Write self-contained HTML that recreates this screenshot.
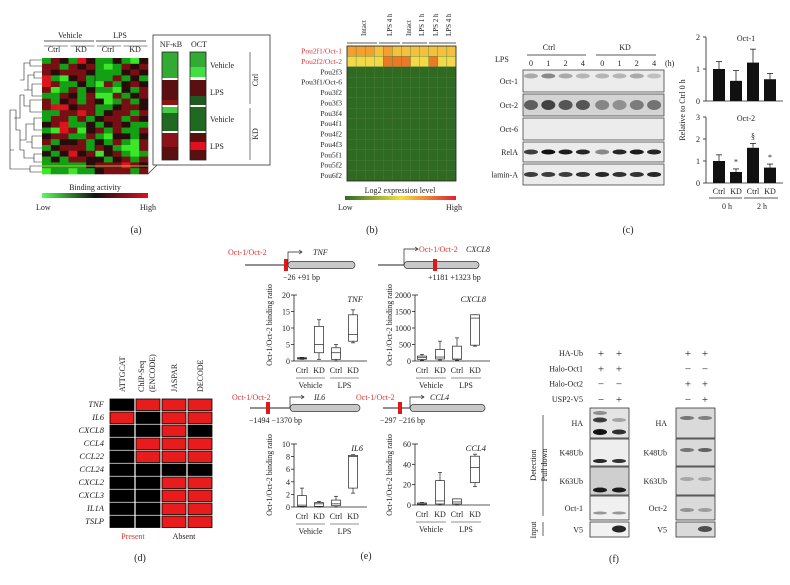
<!DOCTYPE html>
<html><head><meta charset="utf-8"><style>
body{margin:0;background:#fff}
svg{display:block;font-family:"Liberation Serif",serif;}
text{fill:#222}
</style></head><body>
<svg id="fig" width="790" height="585" viewBox="0 0 790 585">
<g id="pa"></g>
<g id="pb"></g>
<g id="pc"></g>
<g id="pd"></g>
<g id="pe"></g>
<g id="pf"></g>
</svg>
<script>
// ---------- data ----------
const aRows = [
[-1,1,0,-1,2,0,-1,-1,0,-1,-2,0],
[1,1,-1,1,0,1,-1,-2,-1,1,0,1],
[1,0,1,1,1,0,-1,-1,-1,0,1,0],
[2,-1,-2,0,1,-1,-1,-1,1,-1,0,-1],
[2,1,-1,-1,0,-1,-2,1,-1,0,1,0],
[1,-2,-1,1,-1,0,-1,-1,-2,0,-1,1],
[-1,-1,1,0,-1,1,-2,-2,1,-1,0,1],
[1,-1,0,1,-1,1,0,-2,-1,1,-1,0],
[1,2,2,0,1,1,-1,-1,0,1,1,0],
[-1,-1,1,1,2,1,-1,0,1,1,-1,1],
[-1,1,1,-1,1,-1,0,1,1,-1,1,0],
[0,1,2,-1,-1,0,-1,0,1,0,-1,-1],
[-1,-2,2,1,-2,0,1,-1,1,-1,-1,1],
[0,1,1,-1,-1,1,-1,-2,0,0,-1,0],
[1,-1,0,0,1,-1,0,-1,1,-1,-2,1],
[-1,0,1,1,1,-1,1,0,-1,-2,-2,1],
[0,-1,0,2,0,1,-2,0,1,-1,-2,-1],
[-1,0,-1,1,1,0,0,-1,0,1,-1,1],
[-1,-1,-1,-1,-1,0,1,1,1,2,1,0],
[-2,-1,-1,-2,-1,-1,0,1,1,1,-1,1]
];
const bGenes = ["Pou2f1/Oct-1","Pou2f2/Oct-2","Pou2f3","Pou3f1/Oct-6","Pou3f2","Pou3f3","Pou3f4","Pou4f1","Pou4f2","Pou4f3","Pou5f1","Pou5f2","Pou6f2"];
const bRow1 = [0.85,0.8,0.8,0.75,0.8,0.75,0.7,0.75,0.72,0.7,0.75,0.7];
const bRow2 = [0.6,0.65,0.7,0.65,0.85,0.8,0.8,0.7,0.6,0.85,0.6,0.6];
const cLanes = ["0","1","2","4","0","1","2","4"];
const cBlots = ["Oct-1","Oct-2","Oct-6","RelA","lamin-A"];
const cBand = [[0.3,0.45,0.3,0.25,0.25,0.25,0.3,0.2],[0.6,0.75,0.65,0.65,0.4,0.35,0.45,0.5],[0,0,0,0,0,0,0,0],[0.8,1,0.95,0.9,0.45,0.9,0.95,0.9],[0.8,0.8,0.8,0.85,0.9,0.85,0.85,0.9]];
const barCats = ["Ctrl","KD","Ctrl","KD"];
const oct1Vals = [1,0.63,1.2,0.68];
const oct1Err = [0.23,0.32,0.42,0.18];
const oct2Vals = [1,0.5,1.6,0.7];
const oct2Err = [0.28,0.14,0.2,0.16];
const dGenes = ["TNF","IL6","CXCL8","CCL4","CCL22","CCL24","CXCL2","CXCL3","IL1A","TSLP"];
const dCols = ["ATTGCAT","ChIP-Seq (ENCODE)","JASPAR","DECODE"];
const dMat = [[0,1,1,1],[1,0,1,1],[0,0,1,0],[0,1,1,1],[0,1,1,1],[0,0,0,0],[0,0,1,1],[0,0,1,1],[0,0,1,1],[0,0,1,1]];
const eCats = ["Ctrl","KD","Ctrl","KD"];
const tnfBox = [[0.5,0.6,0.8,1,1.1],[0.5,2.5,5,10.5,12.5],[0,0.5,2.5,4,5],[5.5,6,8,14,15.5]];
const cxcl8Box = [[20,50,100,150,200],[30,60,120,350,600],[20,50,60,450,700],[450,480,1300,1400,1400]];
const il6Box = [[0,0.1,0.3,1.8,3],[0,0.1,0.5,0.7,0.9],[0,0.2,0.5,1.1,1.7],[2.2,3,8,8.2,8.3]];
const ccl4Box = [[0,0.5,1,2,2.5],[0,1,4,24,32],[0,1,3,6,6],[18,22,37,48,50]];
const tnfTicks = [0,5,10,15,20], cxcl8Ticks=[0,500,1000,1500,2000], il6Ticks=[0,2,4,6,8,10], ccl4Ticks=[0,20,40,60];
const fLeftSigns = [["+","+"],["+","+"],["−","−"],["−","+"]];
const fRightSigns = [["+","+"],["−","−"],["+","+"],["−","+"]];

// ---------- helpers ----------
const NS="http://www.w3.org/2000/svg";
function mk(parent,tag,attrs,txt){const e=document.createElementNS(NS,tag);for(const k in attrs)e.setAttribute(k,attrs[k]);if(txt!==undefined)e.textContent=txt;parent.appendChild(e);return e;}
function T(p,x,y,s,o){o=o||{};const e=mk(p,"text",Object.assign({x:x,y:y,"font-size":o.fs||9},o.a||{}),s);if(o.anchor)e.setAttribute("text-anchor",o.anchor);if(o.fill)e.setAttribute("style","fill:"+o.fill);if(o.it)e.setAttribute("font-style","italic");if(o.rot)e.setAttribute("transform","rotate(-90 "+x+" "+y+")");return e;}
function L(p,x1,y1,x2,y2,w,c){return mk(p,"line",{x1,y1,x2,y2,stroke:c||"#222","stroke-width":w||0.8});}
function R(p,x,y,w,h,f,s){const r=mk(p,"rect",{x,y,width:w,height:h,fill:f});if(s){r.setAttribute("stroke",s);r.setAttribute("stroke-width",0.8);}return r;}
function gr(v){if(v<0){const g=v<=-2?230:v<=-1?160:90;return `rgb(${v<=-2?60:20},${g},${v<=-2?40:20})`;} if(v>0){return v>=2?"rgb(220,20,30)":"rgb(120,15,20)";} return "rgb(40,12,12)";}

// ---------- panel a ----------
const pa=document.getElementById("pa");
const ax0=42,ay0=58,aw=106,ah=116;
const cw=aw/aRows[0].length, rh=ah/aRows.length;
aRows.forEach((row,i)=>row.forEach((v,j)=>{const r=R(pa,ax0+j*cw,ay0+i*rh,cw+0.3,rh+0.3,gr(v));

}));
L(pa,ax0+aw/2,ay0,ax0+aw/2,ay0+ah,0.6,"#111");
L(pa,ax0,ay0+ah-8,ax0+aw,ay0+ah-8,0.8,"#e8d050");
T(pa,70,38,"Vehicle",{fs:8,anchor:"middle"});T(pa,120,38,"LPS",{fs:8,anchor:"middle"});
L(pa,44,41,94,41);L(pa,96,41,146,41);
["Ctrl","KD","Ctrl","KD"].forEach((s,i)=>{T(pa,54+i*27,52,s,{fs:8,anchor:"middle"});L(pa,44+i*26.5,46,68+i*26.5,46,0.6);});
mk(pa,"path",{d:"M42 60H30V66H42M30 63H24V80H20M42 72H34V78H42M34 75H28V90H24M42 84H32V96H42M32 90H28M42 100H30V112H42M30 106H24V95H20V118H14M42 118H34V130H42M34 124H26V140H20M42 136H32V148H42M32 142H26M42 154H34V162H42M34 158H24V150H20V130H16V110H10V150H14M42 166H30V172H42M30 169H10V150",fill:"none",stroke:"#222","stroke-width":0.6});
T(pa,95,190,"Binding activity",{fs:8,anchor:"middle"});
const lg=mk(pa,"defs",{});const grd=mk(lg,"linearGradient",{id:"ga"});mk(grd,"stop",{offset:"0","stop-color":"#5f5"});mk(grd,"stop",{offset:"0.5","stop-color":"#111"});mk(grd,"stop",{offset:"1","stop-color":"#e01020"});
R(pa,42,193,106,5,"url(#ga)");
T(pa,36,210,"Low",{fs:8});T(pa,140,210,"High",{fs:8});
mk(pa,"path",{d:"M148 174L157 165",stroke:"#222","stroke-width":0.6,fill:"none"});
R(pa,153,35,117,130,"#fff","#333");
T(pa,171,47,"NF-κB",{fs:8,anchor:"middle"});T(pa,199,47,"OCT",{fs:8,anchor:"middle"});
[[52,78,"#3a3"],[80,100,"#5a1010"],[100,105,"#8a1515"],[107,113,"#4c4"],[113,131,"#1f6a20"],[133,147,"#8a1218"],[147,160,"#5a1010"]].forEach(s=>R(pa,162,s[0],16,s[1]-s[0],s[2]));
[[52,67,"#3a3"],[67,77,"#4d4"],[80,96,"#5a1010"],[96,105,"#1f5a20"],[107,131,"#1f6a20"],[133,142,"#5a1010"],[142,150,"#e01020"],[150,160,"#5a1010"]].forEach(s=>R(pa,190,s[0],16,s[1]-s[0],s[2]));
R(pa,162,52,16,108,"none","#222");R(pa,190,52,16,108,"none","#222");
T(pa,210,68,"Vehicle",{fs:8});T(pa,210,95,"LPS",{fs:8});T(pa,210,122,"Vehicle",{fs:8});T(pa,210,149,"LPS",{fs:8});
L(pa,250,52,250,104,0.6);L(pa,250,108,250,160,0.6);
T(pa,258,80,"Ctrl",{fs:8,rot:1,anchor:"middle"});T(pa,258,134,"KD",{fs:8,rot:1,anchor:"middle"});
T(pa,136,233,"(a)",{fs:10,anchor:"middle"});

// ---------- panel b ----------
const pb=document.getElementById("pb");
const bx0=347,by0=46,bw=109,bh=135,bc=12;
const bcw=bw/bc,brh=bh/bGenes.length;
function ycol(v){return v>0.78?"#f5c030":v>0.68?"#f0d040":"#e89028";}
bGenes.forEach((g,i)=>{for(let j=0;j<bc;j++){let c;if(i===0)c=bRow1[j]>0.75?"#f2a030":"#f3c040";else if(i===1)c=bRow2[j]>0.78?"#ec7a25":"#f5d84a";else c="#2f6a22";
const r=R(pb,bx0+j*bcw,by0+i*brh,bcw,brh,c,"#4a7a3a");r.setAttribute("stroke-width",0.3);

}
T(pb,342,by0+i*brh+7.5,g,{fs:7.5,anchor:"end",fill:i<2?"#d33":"#222"});});
R(pb,bx0,by0,bw,bh,"none","#222");
[["Intact",366],["LPS 4 h",392],["Intact",411],["LPS 1 h",424],["LPS 2 h",438],["LPS 4 h",451]].forEach(h=>T(pb,h[1],36,h[0],{fs:7,rot:1}));
L(pb,347,43,377,43);L(pb,379,43,400,43);L(pb,402,43,427,43);L(pb,429,43,456,43);
T(pb,400,193,"Log2 expression level",{fs:8,anchor:"middle"});
const g2=mk(lg,"linearGradient",{id:"gb"});mk(g2,"stop",{offset:"0","stop-color":"#2f6a22"});mk(g2,"stop",{offset:"0.5","stop-color":"#f3e040"});mk(g2,"stop",{offset:"1","stop-color":"#e02030"});
R(pb,345,196,111,4,"url(#gb)");
T(pb,338,210,"Low",{fs:8});T(pb,446,210,"High",{fs:8});
T(pb,372,233,"(b)",{fs:10,anchor:"middle"});

// ---------- panel c ----------
const pc=document.getElementById("pc");
T(pc,549,50,"Ctrl",{fs:8,anchor:"middle"});T(pc,625,50,"KD",{fs:8,anchor:"middle"});
L(pc,527,55,586,55);L(pc,596,55,656,55);
T(pc,495,62,"LPS",{fs:8});T(pc,665,66,"(h)",{fs:8});
cLanes.forEach((s,i)=>T(pc,531+i*17.3+(i>3?2:0),66,s,{fs:8,anchor:"middle"}));
const by=[70,94,118,142,164],bhh=[22,22,22,20,21];
cBlots.forEach((b,k)=>{R(pc,523,by[k],141,bhh[k],k===1?"#d4d4d4":"#ececec","#444");
T(pc,518,by[k]+bhh[k]/2+3,b,{fs:8,anchor:"end"});
cBand[k].forEach((v,i)=>{if(v>0){const e=mk(pc,"ellipse",{cx:531+i*17.3+(i>3?2:0),cy:by[k]+bhh[k]/2-(k===0?5:0),rx:7,ry:k===1?5:2.5,fill:"#111",opacity:v});

}});});
// bar charts
function barChart(vals,errs,ymax,top,bot,title,ticks){
 const y=v=>bot-(v/ymax)*(bot-top);
 L(pc,706,top,706,bot);L(pc,706,bot,783,bot);
 ticks.forEach(t=>{L(pc,703,y(t),706,y(t));T(pc,700,y(t)+3,String(t),{fs:8,anchor:"end"});});
 T(pc,746,top+4,title,{fs:8,anchor:"middle"});
 vals.forEach((v,i)=>{const cx=719+i*17;const r=R(pc,cx-6,y(v),12,bot-y(v),"#111");
 
 
 L(pc,cx,y(v),cx,y(v+errs[i]),0.8);L(pc,cx-3,y(v+errs[i]),cx+3,y(v+errs[i]),0.8);});
 return y;}
barChart(oct1Vals,oct1Err,2,37,101,"Oct-1",[0,1,2]);
const y2=barChart(oct2Vals,oct2Err,3,117,183,"Oct-2",[0,1,2,3]);
T(pc,736,y2(0.75)-2,"*",{fs:8,anchor:"middle"});T(pc,770,y2(0.95)-2,"*",{fs:8,anchor:"middle"});T(pc,753,y2(1.9)-2,"§",{fs:8,anchor:"middle"});
T(pc,685,110,"Relative to Ctrl 0 h",{fs:8,rot:1,anchor:"middle"});
barCats.forEach((c,i)=>T(pc,719+i*17,194,c,{fs:8,anchor:"middle"}));
L(pc,709,198,742,198);L(pc,744,198,778,198);
T(pc,727,209,"0 h",{fs:8,anchor:"middle"});T(pc,762,209,"2 h",{fs:8,anchor:"middle"});
T(pc,628,233,"(c)",{fs:10,anchor:"middle"});

// ---------- panel d ----------
const pd=document.getElementById("pd");
const dx=[110,136,162,188];
dCols.forEach((c,j)=>{if(j===1){T(pd,144,392,"ChIP-Seq",{fs:8,rot:1});T(pd,155,392,"(ENCODE)",{fs:8,rot:1});}else T(pd,dx[j]+15,392,c,{fs:8,rot:1});});
dGenes.forEach((g,i)=>{T(pd,104,i*13+407,g,{fs:8.5,anchor:"end",it:1});
dMat[i].forEach((v,j)=>{const r=R(pd,dx[j],399+i*13,24,11.5,v?"#e81c1c":"#000","#000");

});});
T(pd,133,539,"Present",{fs:8,anchor:"middle",fill:"#d33"});T(pd,184,539,"Absent",{fs:8,anchor:"middle"});
T(pd,140,561,"(d)",{fs:10,anchor:"middle"});

// ---------- panel e ----------
const pe=document.getElementById("pe");
function gene(x1,xr,x2,y,redx,label,lx,gname,gx,bp,bpx,textY,arrow){
 L(pe,x1,y,xr,y,1);
 mk(pe,"rect",{x:xr,y:y-3.5,width:x2-xr,height:7,rx:3.5,fill:"#c8c8c8",stroke:"#333","stroke-width":0.7});
 R(pe,redx,y-6,4,12,"#e01818");
 mk(pe,"path",{d:`M${xr} ${y}V${textY-3}H${xr+14}M${xr+11} ${textY-5}L${xr+14} ${textY-3}L${xr+11} ${textY-1}`,fill:"none",stroke:"#222","stroke-width":0.7});
 T(pe,lx,textY,"Oct-1/Oct-2",{fs:8,fill:"#d33"});T(pe,gx,textY,gname,{fs:8,it:1});T(pe,bpx,y+15,bp,{fs:8});}
gene(245,288,355,265,284,"",228,"TNF",313,"−26 +91 bp",283,255);
gene(378,404,479,265,433,"",419,"CXCL8",466,"+1181 +1323 bp",428,252);
gene(250,290,360,408,266,"",232,"IL6",314,"−1494 −1370 bp",249,400);
gene(383,410,485,408,398,"",356,"CCL4",430,"−297 −216 bp",380,400);
function box(x0,x1,top,bot,ymax,ticks,data,cx,name){
 const y=v=>bot-(v/ymax)*(bot-top);
 L(pe,x0,top,x0,bot);L(pe,x0,bot,x1,bot);
 ticks.forEach(t=>{L(pe,x0-3,y(t),x0,y(t));T(pe,x0-4,y(t)+3,String(t),{fs:8,anchor:"end"});});
 L(pe,x0,top,x0+3,top);
 T(pe,x1-4,top+7,name,{fs:8.5,it:1,anchor:"end"});
 data.forEach((d,i)=>{const c=cx[i];L(pe,c,y(d[0]),c,y(d[4]),0.7);L(pe,c-2,y(d[4]),c+2,y(d[4]),0.7);L(pe,c-2,y(d[0]),c+2,y(d[0]),0.7);
 const r=mk(pe,"rect",{x:c-4.5,y:y(d[3]),width:9,height:Math.max(0.8,y(d[1])-y(d[3])),fill:"#fff",stroke:"#222","stroke-width":0.7});
 
 
 L(pe,c-4.5,y(d[2]),c+4.5,y(d[2]),0.7);});
 eCats.forEach((s,i)=>T(pe,cx[i],bot+12,s,{fs:8,anchor:"middle"}));
 L(pe,cx[0]-6,bot+17,cx[1]+6,bot+17,0.6);L(pe,cx[2]-6,bot+17,cx[3]+6,bot+17,0.6);
 T(pe,(cx[0]+cx[1])/2,bot+27,"Vehicle",{fs:8,anchor:"middle"});T(pe,(cx[2]+cx[3])/2,bot+27,"LPS",{fs:8,anchor:"middle"});}
box(294,367,295,361,20,tnfTicks,tnfBox,[302,319,336,353],"TNF");
box(415,490,295,361,2000,cxcl8Ticks,cxcl8Box,[422,440,457,475],"CXCL8");
box(294,367,444,507,10,il6Ticks,il6Box,[302,319,336,353],"IL6");
box(415,490,444,505,60,ccl4Ticks,ccl4Box,[422,440,457,475],"CCL4");
[[272,325],[392,325],[272,475],[392,475]].forEach(p=>T(pe,p[0],p[1],"Oct-1/Oct-2 binding ratio",{fs:8,rot:1,anchor:"middle"}));
T(pe,366,559,"(e)",{fs:10,anchor:"middle"});

// ---------- panel f ----------
const pf=document.getElementById("pf");
["HA-Ub","Halo-Oct1","Halo-Oct2","USP2-V5"].forEach((s,i)=>{T(pf,583,356+i*15.3,s,{fs:8,anchor:"end"});
 fLeftSigns[i].forEach((g,j)=>T(pf,601+j*18,357+i*15.3,g,{fs:11,anchor:"middle"}));
 fRightSigns[i].forEach((g,j)=>T(pf,688+j*17,357+i*15.3,g,{fs:11,anchor:"middle"}));});
const fy=[408,439,467,496,522],fh=[30,27,28,24,15];
const fl=[["HA","K48Ub","K63Ub","Oct-1","V5"],["HA","K48Ub","K63Ub","Oct-2","V5"]];
const fbg=["#e4e4e4","#eeeeee","#cfcfcf","#f0f0f0","#f2f2f2"];
[[590,583],[676,667]].forEach((pos,s)=>{fy.forEach((y,k)=>{R(pf,pos[0],y,39,fh[k],s?"#dadada":fbg[k],"#333");T(pf,pos[1],y+fh[k]/2+3,fl[s][k],{fs:8,anchor:"end"});});});
// bands
[[600,432,1,3],[619,432,0.85,2.5],[600,420,0.8,2.5],[619,420,0.3,2],[600,413,0.4,2],[600,461,0.9,2],[619,461,0.85,2],[600,490,0.95,2.5],[619,490,0.95,2.5],[600,513,0.4,1.5],[619,513,0.4,1.5],[619,529,0.9,3.5],[687,418,0.5,2],[705,418,0.45,2],[687,450,0.5,2],[705,450,0.6,2],[687,479,0.25,2],[705,479,0.25,2],[687,510,0.35,2],[705,510,0.3,2],[705,529,0.7,3]].forEach(b=>{const e=mk(pf,"ellipse",{cx:b[0],cy:b[1],rx:7,ry:b[3],fill:"#111",opacity:b[2]});

});
L(pf,543,415,543,516,0.7);L(pf,543,522,543,536,0.7);
T(pf,536,465,"Detection",{fs:8,rot:1,anchor:"middle"});T(pf,547,465,"Pull down",{fs:8,rot:1,anchor:"middle"});
T(pf,536,530,"Input",{fs:8,rot:1,anchor:"middle"});
T(pf,614,562,"(f)",{fs:10,anchor:"middle"});
</script>
</body></html>
